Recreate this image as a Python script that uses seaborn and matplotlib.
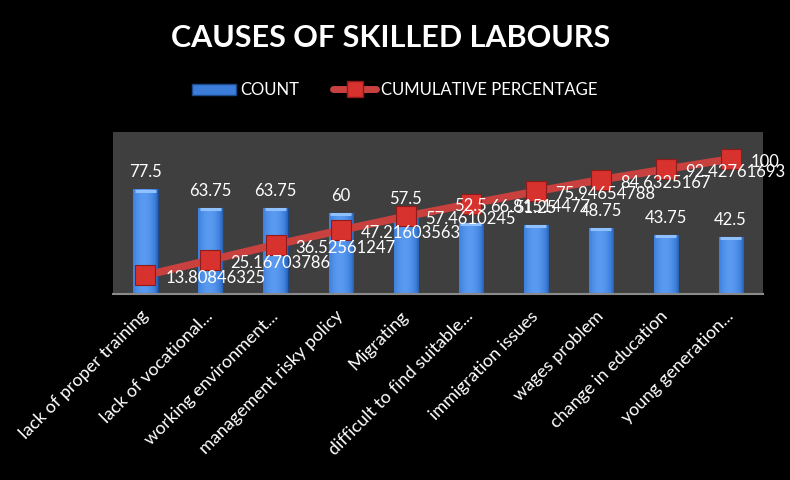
import matplotlib
matplotlib.use("Agg")
import matplotlib.pyplot as plt
from matplotlib.patches import Patch
from matplotlib.lines import Line2D
import numpy as np
import pandas as pd
import seaborn as sns

# chart data
causes = ["lack of proper training", "lack of vocational...", "working environment...",
          "management risky policy", "Migrating", "difficult to find suitable...",
          "immigration issues", "wages problem", "change in education",
          "young generation..."]
count = [77.5, 63.75, 63.75, 60, 57.5, 52.5, 51.25, 48.75, 43.75, 42.5]
cum_pct = [13.80846325, 25.16703786, 36.52561247, 47.21603563, 57.4610245,
           66.81514477, 75.94654788, 84.6325167, 92.42761693, 100]
cum_labels = ["13.80846325", "25.16703786", "36.52561247", "47.21603563", "57.4610245",
              "66.81514477", "75.94654788", "84.6325167", "92.42761693", "100"]
count_labels = ["77.5", "63.75", "63.75", "60", "57.5", "52.5", "51.25", "48.75", "43.75", "42.5"]

df = pd.DataFrame({"cause": causes, "count": count, "cum": cum_pct})

sns.set_style("dark")
plt.rcParams['font.family'] = ['Lato', 'DejaVu Sans']

fig = plt.figure(figsize=(7.9, 4.8), dpi=100, facecolor="black")
ax = fig.add_axes([0.143, 0.3875, 0.823, 0.3375])
ax.set_facecolor("#3f3f3f")

sns.barplot(data=df, x="cause", y="count", color="#3b7dd8", width=0.37,
            edgecolor="#1d4a8c", linewidth=0.8, saturation=1, ax=ax, zorder=2)

# horizontal shading on the bars (cylinder look)
grad = np.linspace(0, 1, 64)
shade = 0.55 + 0.45 * np.sin(np.pi * (0.15 + 0.8 * grad))
cmap = matplotlib.colors.LinearSegmentedColormap.from_list(
    "b", ["#1b4587", "#3c7fdc", "#5a9af0"])
for bar in ax.patches:
    x0, y0 = bar.get_x(), bar.get_y()
    w, h = bar.get_width(), bar.get_height()
    im = ax.imshow(shade[np.newaxis, :], extent=[x0, x0 + w, y0, y0 + h],
                   aspect="auto", cmap=cmap, vmin=0.5, vmax=1.0, zorder=2.5)
    im.set_clip_path(bar)
    ax.plot([x0 + 0.02, x0 + w - 0.02], [y0 + h - 0.9, y0 + h - 0.9],
            color="#8fc0ff", lw=2.2, zorder=2.6, solid_capstyle="butt")

xs = np.arange(len(causes))
sns.lineplot(x=xs, y=df["cum"], color="#c9413f", linewidth=5.5, marker="s",
             markersize=14, markerfacecolor="#d8322e", markeredgecolor="#8e1b19",
             markeredgewidth=0.8, ax=ax, zorder=4)

for i, (c, lab) in enumerate(zip(count, count_labels)):
    ax.annotate(lab, (i, c), xytext=(0, 9), textcoords="offset pixels",
                ha="center", va="bottom", color="white", fontsize=12, zorder=5)
for i, (c, lab) in enumerate(zip(cum_pct, cum_labels)):
    ax.annotate(lab, (i, c), xytext=(20, -3), textcoords="offset pixels",
                ha="left", va="center", color="white", fontsize=12, zorder=5)

ax.set_xlim(-0.5, len(causes) - 0.5)
ax.set_ylim(0, 120)
ax.set_yticks([])
ax.set_xlabel("")
ax.set_ylabel("")
ax.grid(False)
for s in ["top", "left", "right"]:
    ax.spines[s].set_visible(False)
ax.spines["bottom"].set_color("#8a8a8a")
ax.spines["bottom"].set_linewidth(1.5)
ax.tick_params(axis="x", length=0, pad=14)
plt.setp(ax.get_xticklabels(), rotation=45, ha="right", va="center",
         rotation_mode="anchor", color="white", fontsize=13)

fig.text(0.495, 0.92, "CAUSES OF SKILLED LABOURS", ha="center", va="center",
         color="white", fontsize=22, weight="bold")

handles = [Patch(facecolor="#3b7dd8", edgecolor="#1d4a8c"),
           Line2D([0], [0], color="#c9413f", lw=5, marker="s", markersize=12,
                  markerfacecolor="#d8322e", markeredgecolor="#8e1b19")]
fig.legend(handles, ["COUNT", "CUMULATIVE PERCENTAGE"], loc="center",
           bbox_to_anchor=(0.5, 0.812), ncol=2, frameon=False, labelcolor="white",
           fontsize=12, handlelength=2.6, handletextpad=0.3, columnspacing=2.0)

fig.savefig("out.png", dpi=100, facecolor="black")
